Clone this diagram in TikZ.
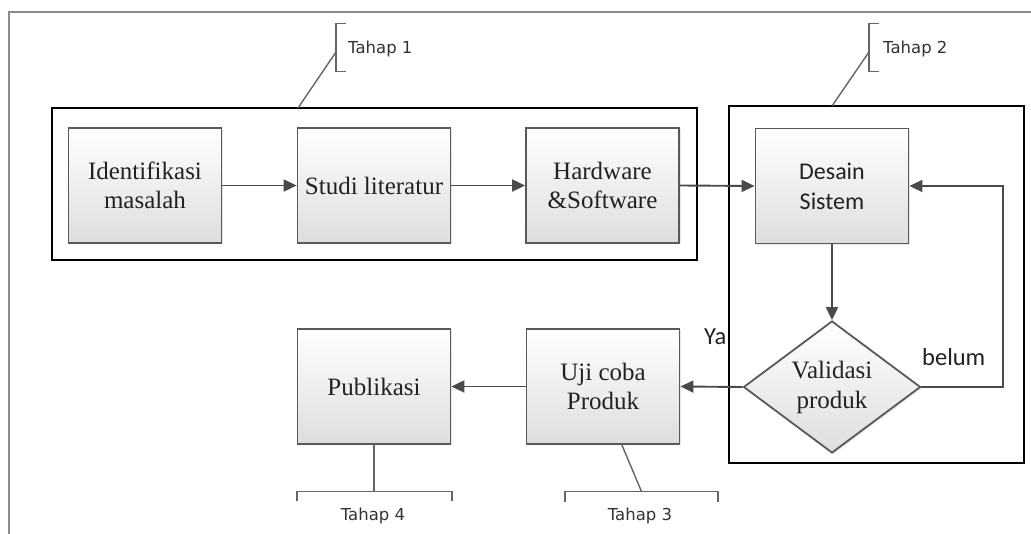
\documentclass[tikz,border=0pt]{standalone}
\usepackage{fontspec}
\setmainfont{Liberation Serif}
\newfontfamily\calfont{Carlito}
\newfontfamily\tahfont{DejaVu Sans}
\usetikzlibrary{arrows.meta,shapes.geometric,shadows}
\definecolor{boxline}{HTML}{595959}
\definecolor{arrowc}{HTML}{4A4A4A}
\definecolor{framec}{HTML}{8A8A8A}
\definecolor{txtc}{HTML}{222222}
\begin{document}
\begin{tikzpicture}[x=1pt,y=-1pt,
  stepbox/.style={draw=boxline, line width=1.8pt, top color=white, bottom color=black!13,
    minimum width=153pt, minimum height=115pt, inner sep=0pt, align=center, text=txtc,
    font=\fontsize{25}{29}\selectfont,
    drop shadow={opacity=0.18, shadow xshift=1.5pt, shadow yshift=-1.5pt}},
  decbox/.style={diamond, aspect=1.35, draw=boxline, line width=1.8pt, top color=white, bottom color=black!13,
    minimum width=177pt, minimum height=132pt, inner sep=0pt, align=center, text=txtc,
    font=\fontsize{25}{30}\selectfont,
    drop shadow={opacity=0.18, shadow xshift=1.5pt, shadow yshift=-1.5pt}},
  container/.style={draw=black, line width=2.2pt, inner sep=0pt},
  flow/.style={draw=arrowc, line width=1.9pt, -{Triangle[length=13pt,width=12pt]}},
  callout/.style={draw=arrowc!85, line width=1.4pt},
  tahap/.style={font=\tahfont\fontsize{16.5}{19}\selectfont, text=black!80, inner sep=0pt},
  lbl/.style={font=\calfont\fontsize{24.5}{28}\selectfont, text=txtc, inner sep=0pt}
]
\useasboundingbox (0,0) rectangle (1031,534);
\fill[white] (0,0) rectangle (1031,534);
% outer frame
\draw[framec, line width=1.6pt] (9,534) -- (9,12) -- (1031,12);

% containers
\node[container, minimum width=645pt, minimum height=152pt] (t1) at (374.5,184) {};
\node[container, minimum width=295pt, minimum height=357pt] (t2) at (876.5,284.5) {};

% process boxes
\node[stepbox] (id) at (145,185.5) {Identifikasi\\masalah};
\node[stepbox] (studi) at (374,185.5) {Studi literatur};
\node[stepbox] (hw) at (602.5,185.5) {Hardware\\\&Software};
\node[stepbox, font=\calfont\fontsize{24}{30}\selectfont] (des) at (832,186) {Desain\\Sistem};
\node[stepbox] (pub) at (374,386.5) {Publikasi};
\node[stepbox] (uji) at (603,386.5) {Uji coba\\Produk};
\node[decbox] (val) at (832,387) {Validasi\\produk};

% connectors
\draw[flow] (id.east) -- (studi.west);
\draw[flow] (studi.east) -- (hw.west);
\draw[flow] (hw.east) -- (des.west);
\draw[flow] (des.south) -- (val.north);
\draw[flow] (val.west) -- (uji.east);
\draw[flow] (uji.west) -- (pub.east);
\coordinate (fb) at (1003,387);
\draw[flow] (val.east) -- (fb) |- (des.east);

% labels
\node[lbl, anchor=base west] (ya) at (704,345) {Ya};
\node[lbl, anchor=base west] (belum) at (922,366) {belum};

% Tahap 1
\coordinate (c1a) at (298,108);
\coordinate (c1b) at (336,52);
\draw[callout] (c1a) -- (c1b);
\draw[callout] (346,23.5) -- (336,23.5) -- (336,71.5) -- (346,71.5);
\node[tahap, anchor=base west] (tah1) at (348,53.3) {Tahap 1};

% Tahap 2
\coordinate (c2a) at (832,106);
\coordinate (c2b) at (869,52);
\draw[callout] (c2a) -- (c2b);
\draw[callout] (879,23.5) -- (869,23.5) -- (869,71.5) -- (879,71.5);
\node[tahap, anchor=base west] (tah2) at (883,53.3) {Tahap 2};

% Tahap 3
\coordinate (c3a) at (621.5,444);
\coordinate (c3b) at (641.5,491.5);
\draw[callout] (c3a) -- (c3b);
\draw[callout] (565,501.5) -- (565,491.5) -- (718,491.5) -- (718,501.5);
\node[tahap, anchor=base] (tah3) at (640,520.5) {Tahap 3};

% Tahap 4
\coordinate (c4a) at (374,444);
\coordinate (c4b) at (374,491.5);
\draw[callout] (c4a) -- (c4b);
\draw[callout] (297,501) -- (297,491.5) -- (452,491.5) -- (452,501);
\node[tahap, anchor=base] (tah4) at (373,520.5) {Tahap 4};
\end{tikzpicture}
\end{document}
